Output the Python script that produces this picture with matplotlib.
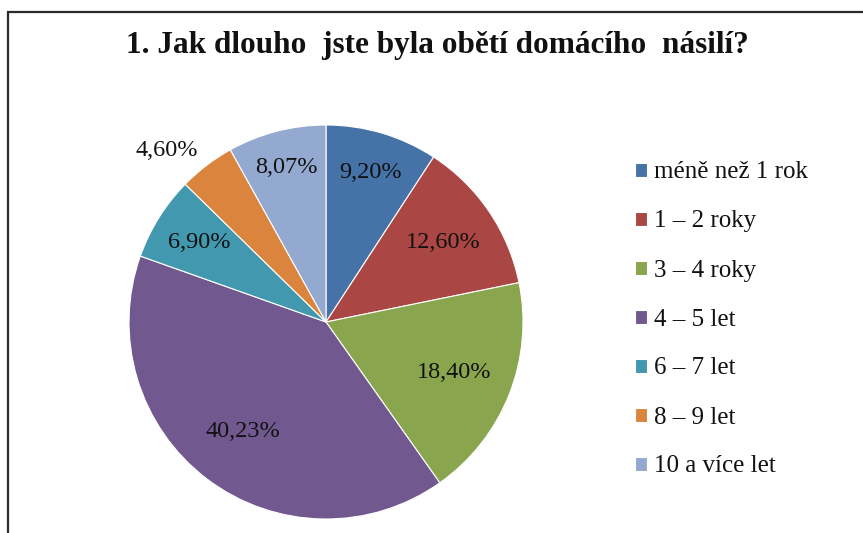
import matplotlib
matplotlib.use('Agg')
import matplotlib.pyplot as plt
from matplotlib.patches import Rectangle
import numpy as np

# data
categories = ['méně než 1 rok', '1 – 2 roky', '3 – 4 roky', '4 – 5 let',
              '6 – 7 let', '8 – 9 let', '10 a více let']
shares = [9.20, 12.60, 18.40, 40.23, 6.90, 4.60, 8.07]
colors = ['#4572A7', '#AA4643', '#89A54E', '#71588F', '#4198AF', '#DB843D', '#93A9CF']

# label placement (distance from centre in radii, angular nudge in degrees)
label_dist = [0.79, 0.72, 0.70, 0.70, 0.76, 1.19, 0.81]
label_turn = [0, 0, 0, 0, 0, 5.5, 0]

plt.rcParams['font.family'] = ['Liberation Serif', 'DejaVu Serif']

W, H = 863, 533
fig = plt.figure(figsize=(W / 100, H / 100), dpi=100)

# frame of the chart area (runs off the right and bottom edge)
fig.patches.append(Rectangle((8 / W, -0.1), 1.2, 1 - 12 / H + 0.1,
                             transform=fig.transFigure, fill=False,
                             edgecolor='#2b2b2b', linewidth=1.6))

cx, cy, r = 326, 322, 197
ax = fig.add_axes([(cx - r) / W, (H - cy - r) / H, 2 * r / W, 2 * r / H])
wedges, _ = ax.pie(shares, colors=colors, startangle=90, counterclock=False,
                   radius=1, wedgeprops=dict(edgecolor='white', linewidth=0.8))
ax.set_xlim(-1, 1)
ax.set_ylim(-1, 1)
ax.axis('off')

for w, v, d, t in zip(wedges, shares, label_dist, label_turn):
    ang = np.deg2rad((w.theta1 + w.theta2) / 2 + t)
    ax.text(d * np.cos(ang), d * np.sin(ang), f'{v:.2f}'.replace('.', ',') + '%',
            ha='center', va='center', fontsize=17.5, color='#111111', clip_on=False)

fig.text(437 / W, 1 - 46 / H, '1. Jak dlouho  jste byla obětí domácího  násilí?',
         ha='center', va='center', fontsize=22.5, fontweight='bold', color='#111111')

leg = fig.legend(wedges, categories, loc='upper left',
                 bbox_to_anchor=(612 / W, 1 - 139 / H), frameon=False,
                 fontsize=18, handlelength=0.5, handleheight=0.5,
                 handletextpad=0.3, labelspacing=1.08)
for t in leg.get_texts():
    t.set_color('#111111')

fig.savefig('out.png', dpi=100)
